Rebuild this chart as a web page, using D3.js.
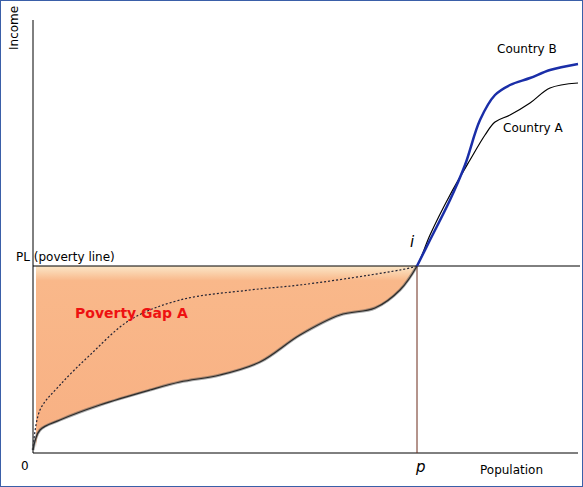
<!DOCTYPE html>
<html><head><meta charset="utf-8">
<script src="https://cdn.jsdelivr.net/npm/d3@7"></script>
<style>body{margin:0;background:#fff}text{font-family:"DejaVu Sans",sans-serif}</style>
</head><body>
<script>
// population share (0..545) and income (0..433)
const popA = [0, 7, 27, 67, 117, 147, 187, 227, 267, 307, 342, 367, 384, 397, 417, 437, 452, 462, 477, 497, 517, 545];
const incA = [3, 23, 33, 48, 63, 71, 78, 91, 118, 138, 145, 163, 187, 218, 258, 293, 318, 331, 338, 350, 365, 370];
const popB = [384, 397, 417, 432, 447, 462, 477, 497, 517, 545];
const incB = [187, 213, 253, 288, 333, 358, 368, 375, 383, 389];
const popD = [0, 7, 27, 57, 97, 147, 217, 267, 337, 377, 384];
const incD = [3, 43, 68, 98, 133, 153, 163, 168, 178, 185, 187];
const povertyLine = 187, pPoint = 384;

const W = 583, H = 487;
const svg = d3.select("body").append("svg").attr("width", W).attr("height", H);
const x = d3.scaleLinear().domain([0, 545]).range([33, 578]);
const y = d3.scaleLinear().domain([0, 433]).range([453, 20]);

const defs = svg.append("defs");
const g = defs.append("linearGradient").attr("id", "pg").attr("x1", 0).attr("x2", 0).attr("y1", 0).attr("y2", 1);
g.append("stop").attr("offset", 0).attr("stop-color", "#fbe7c8");
g.append("stop").attr("offset", 0.08).attr("stop-color", "#f9b88a");
g.append("stop").attr("offset", 1).attr("stop-color", "#f8b083");

svg.append("rect").attr("x", 0.5).attr("y", 0.5).attr("width", W - 1).attr("height", H - 1)
  .attr("fill", "none").attr("stroke", "#3a5fa8");

const line = d3.line().x((d, i, a) => x(d[0])).y(d => y(d[1])).curve(d3.curveCatmullRom);
const ptsA = popA.map((p, i) => [p, incA[i]]);
const below = ptsA.filter(d => d[0] <= pPoint);

// shaded gap area
const area = d3.area().x(d => x(d[0])).y0(y(povertyLine)).y1(d => y(d[1])).curve(d3.curveCatmullRom);
svg.append("path").datum(below.map(d => [Math.max(d[0], 3), d[1]])).attr("d", area).attr("fill", "url(#pg)");

// axes
svg.append("line").attr("x1", x(0)).attr("x2", x(0)).attr("y1", 20).attr("y2", y(0)).attr("stroke", "#000");
svg.append("line").attr("x1", x(0)).attr("x2", 578).attr("y1", y(0)).attr("y2", y(0)).attr("stroke", "#000");
svg.append("line").attr("x1", x(0)).attr("x2", 580).attr("y1", y(povertyLine)).attr("y2", y(povertyLine)).attr("stroke", "#000");
svg.append("line").attr("x1", x(pPoint)).attr("x2", x(pPoint)).attr("y1", y(povertyLine)).attr("y2", y(0)).attr("stroke", "#6b2a1a");

svg.append("path").datum(popD.map((p, i) => [p, incD[i]])).attr("d", line)
  .attr("fill", "none").attr("stroke", "#223").attr("stroke-width", 1.2).attr("stroke-dasharray", "2,2");
svg.append("path").datum(ptsA).attr("d", line).attr("fill", "none").attr("stroke", "#000").attr("stroke-width", 1.2);
svg.append("path").datum(below).attr("d", line).attr("fill", "none").attr("stroke", "#555").attr("stroke-width", 3).attr("opacity", 0.5);
svg.append("path").datum(popB.map((p, i) => [p, incB[i]])).attr("d", line)
  .attr("fill", "none").attr("stroke", "#1a2ea8").attr("stroke-width", 2.5);

const t = (tx, ty, s, o = {}) => svg.append("text").attr("x", tx).attr("y", ty).text(s)
  .attr("font-size", o.size || 12).attr("fill", o.fill || "#000")
  .attr("font-weight", o.weight || "normal").attr("font-style", o.style || "normal")
  .attr("font-family", o.family || null).attr("transform", o.rot ? `rotate(-90,${tx},${ty})` : null);
t(18, 50, "Income", { rot: true });
t(16, 261, "PL (poverty line)");
t(21, 470, "0");
t(416, 472, "p", { style: "italic", size: 15, family: "DejaVu Serif" });
t(480, 474, "Population");
t(410, 247, "i", { style: "italic", size: 15, family: "DejaVu Serif" });
t(497, 53, "Country B");
t(503, 132, "Country A");
t(75, 318, "Poverty Gap A", { fill: "#ee1111", weight: "bold", size: 14 });
</script>
</body></html>
